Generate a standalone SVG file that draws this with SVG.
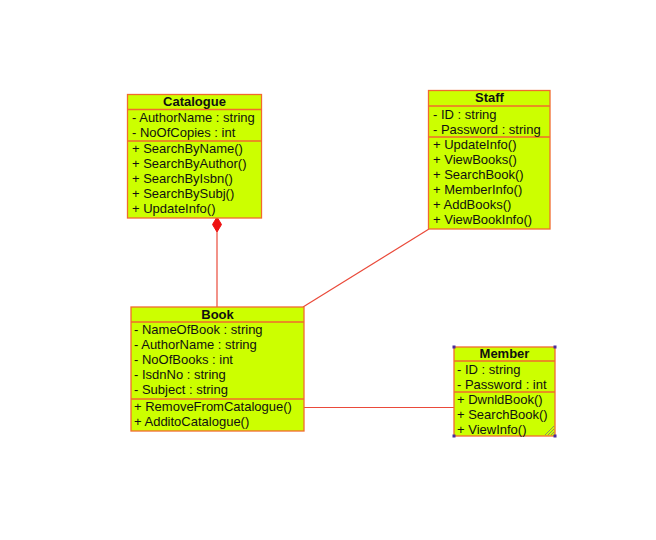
<svg xmlns="http://www.w3.org/2000/svg" width="656" height="540" viewBox="0 0 656 540">
<style>
.box{fill:#ccff00;stroke:#f26a2e;stroke-width:1.3}
.sep{stroke:#f26a2e;stroke-width:1.3}
.t{font-family:"Liberation Sans",Arial,sans-serif;font-size:13px;fill:#111}
.h{font-family:"Liberation Sans",Arial,sans-serif;font-size:13px;font-weight:bold;fill:#111;text-anchor:middle}
.c{stroke:#ea4a3a;stroke-width:1.2;fill:none}
.hd{fill:#4b2c9c}
</style>
<rect width="656" height="540" fill="#ffffff"/>
<g id="connectors">
<line class="c" x1="217" y1="232" x2="217" y2="307"/>
<polygon points="217,217 221.5,224.5 217,232 212.5,224.5" fill="#ee1111" stroke="#ee1111" stroke-width="1"/>
<line class="c" x1="303" y1="307" x2="429" y2="229"/>
<line class="c" x1="304" y1="407.5" x2="454" y2="407.5"/>
</g>
<g id="catalogue">
<rect class="box" x="127.5" y="94.5" width="134" height="123.5"/>
<line class="sep" x1="127.5" y1="109.5" x2="261.5" y2="109.5"/>
<line class="sep" x1="127.5" y1="141" x2="261.5" y2="141"/>
<text class="h" x="194.5" y="106">Catalogue</text>
<text class="t" x="132" y="122">- AuthorName : string</text>
<text class="t" x="132" y="137">- NoOfCopies : int</text>
<text class="t" x="132" y="152.5">+ SearchByName()</text>
<text class="t" x="132" y="167.5">+ SearchByAuthor()</text>
<text class="t" x="132" y="182.5">+ SearchByIsbn()</text>
<text class="t" x="132" y="197.5">+ SearchBySubj()</text>
<text class="t" x="132" y="212.5">+ UpdateInfo()</text>
</g>
<g id="staff">
<rect class="box" x="428.5" y="90.5" width="121.5" height="138.5"/>
<line class="sep" x1="428.5" y1="106" x2="550" y2="106"/>
<line class="sep" x1="428.5" y1="137" x2="550" y2="137"/>
<text class="h" x="489.5" y="102">Staff</text>
<text class="t" x="433" y="118.5">- ID : string</text>
<text class="t" x="433" y="133.5">- Password : string</text>
<text class="t" x="433" y="148.5">+ UpdateInfo()</text>
<text class="t" x="433" y="163.5">+ ViewBooks()</text>
<text class="t" x="433" y="178.5">+ SearchBook()</text>
<text class="t" x="433" y="193.5">+ MemberInfo()</text>
<text class="t" x="433" y="208.5">+ AddBooks()</text>
<text class="t" x="433" y="223.5">+ ViewBookInfo()</text>
</g>
<g id="book">
<rect class="box" x="131" y="307" width="173" height="124"/>
<line class="sep" x1="131" y1="322" x2="304" y2="322"/>
<line class="sep" x1="131" y1="399" x2="304" y2="399"/>
<text class="h" x="217.5" y="319">Book</text>
<text class="t" x="134" y="334">- NameOfBook : string</text>
<text class="t" x="134" y="349">- AuthorName : string</text>
<text class="t" x="134" y="364">- NoOfBooks : int</text>
<text class="t" x="134" y="379">- IsdnNo : string</text>
<text class="t" x="134" y="394">- Subject : string</text>
<text class="t" x="134" y="410.5">+ RemoveFromCatalogue()</text>
<text class="t" x="134" y="425.5">+ AdditoCatalogue()</text>
</g>
<g id="member">
<rect class="box" x="454" y="347" width="101" height="89"/>
<line class="sep" x1="454" y1="361" x2="555" y2="361"/>
<line class="sep" x1="454" y1="392" x2="555" y2="392"/>
<text class="h" x="504.5" y="358">Member</text>
<text class="t" x="457" y="373.5">- ID : string</text>
<text class="t" x="457" y="388.5">- Password : int</text>
<text class="t" x="457" y="403.5">+ DwnldBook()</text>
<text class="t" x="457" y="418.5">+ SearchBook()</text>
<text class="t" x="457" y="433.5">+ ViewInfo()</text>
<path d="M545,435 L554,426 M548,435 L554,429 M551,435 L554,432" stroke="#777" stroke-width="0.8"/>
<rect class="hd" x="452.5" y="345.5" width="3" height="3"/>
<rect class="hd" x="553.5" y="345.5" width="3" height="3"/>
<rect class="hd" x="452.5" y="434.5" width="3" height="3"/>
<rect class="hd" x="553.5" y="434.5" width="3" height="3"/>
</g>
</svg>
